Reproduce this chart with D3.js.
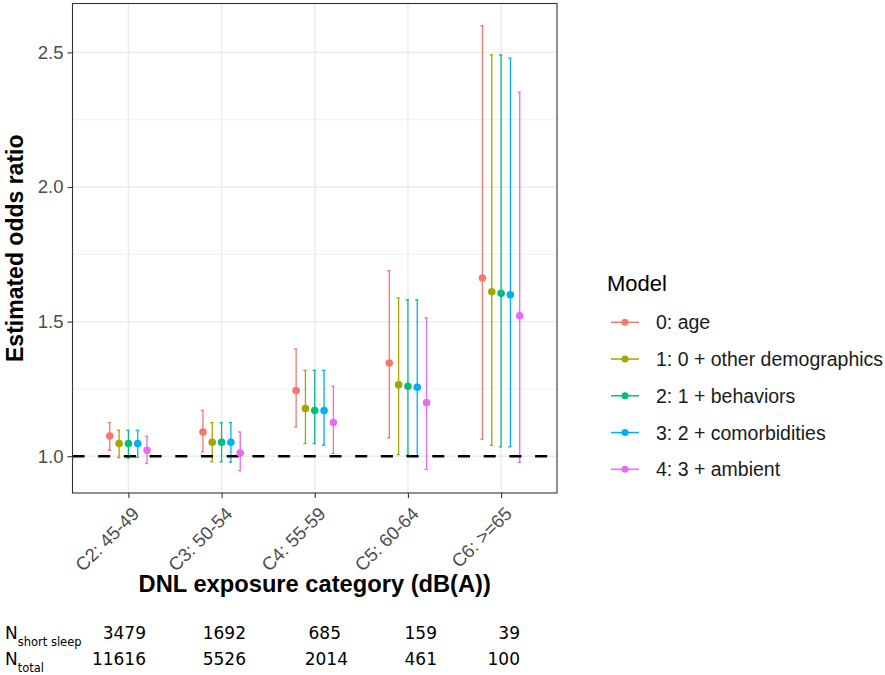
<!DOCTYPE html>
<html>
<head>
<meta charset="utf-8">
<script src="https://cdn.jsdelivr.net/npm/d3@7"></script>
<style>
  html, body { margin: 0; padding: 0; background: #ffffff; }
  svg { display: block; }
</style>
</head>
<body>
<svg id="chart" width="885" height="675"></svg>
<script>
// Exposure categories (x axis) and adjustment models (colour groups)
const categories = ["C2: 45-49", "C3: 50-54", "C4: 55-59", "C5: 60-64", "C6: >=65"];
const models = ["0: age", "1: 0 + other demographics", "2: 1 + behaviors", "3: 2 + comorbidities", "4: 3 + ambient"];
const modelColors = ["#F8766D", "#A3A500", "#00BF7D", "#00B0F6", "#E76BF3"];

// Estimated odds ratios and 95% CI per model, one entry per category
const orAge      = [1.075, 1.090, 1.244, 1.346, 1.662];
const loAge      = [1.022, 1.016, 1.109, 1.068, 1.063];
const hiAge      = [1.125, 1.170, 1.398, 1.689, 2.599];

const orDemo     = [1.047, 1.052, 1.177, 1.265, 1.611];
const loDemo     = [0.995, 0.979, 1.047, 1.006, 1.040];
const hiDemo     = [1.096, 1.125, 1.319, 1.588, 2.491];

const orBehav    = [1.047, 1.052, 1.170, 1.260, 1.605];
const loBehav    = [0.993, 0.979, 1.047, 1.004, 1.035];
const hiBehav    = [1.096, 1.125, 1.319, 1.581, 2.491];

const orComorb   = [1.047, 1.052, 1.170, 1.256, 1.600];
const loComorb   = [0.996, 0.978, 1.041, 1.000, 1.035];
const hiComorb   = [1.096, 1.125, 1.319, 1.581, 2.479];

const orAmbient  = [1.022, 1.012, 1.125, 1.199, 1.522];
const loAmbient  = [0.973, 0.946, 1.011, 0.951, 0.977];
const hiAmbient  = [1.074, 1.090, 1.260, 1.514, 2.352];

// Sample sizes printed below the axis
const nShortSleep = [3479, 1692, 685, 159, 39];
const nTotal      = [11616, 5526, 2014, 461, 100];

const yTicks = [1.0, 1.5, 2.0, 2.5];
const yMinorTicks = [1.25, 1.75, 2.25];
const referenceOR = 1.0;

const seriesOR = [orAge, orDemo, orBehav, orComorb, orAmbient];
const seriesLo = [loAge, loDemo, loBehav, loComorb, loAmbient];
const seriesHi = [hiAge, hiDemo, hiBehav, hiComorb, hiAmbient];

const rows = [];
models.forEach((m, mi) => {
  categories.forEach((c, ci) => {
    rows.push({ model: m, mi, category: c, or: seriesOR[mi][ci], lo: seriesLo[mi][ci], hi: seriesHi[mi][ci] });
  });
});

// ---- layout ----
const panel = { left: 72.5, right: 557, top: 3.5, bottom: 493 };
const svg = d3.select("#chart");
const sans = "'Liberation Sans', Arial, sans-serif";

// discrete x scale with 0.6 category expansion on each side
const unit = (panel.right - panel.left) / (categories.length - 1 + 1.2);
const x = d3.scalePoint().domain(categories)
  .range([panel.left + 0.6 * unit, panel.right - 0.6 * unit]);
const dodge = d3.scalePoint().domain(models).range([-0.2 * unit, 0.2 * unit]);

// continuous y scale with 5% expansion of the data range
const yLo = d3.min(rows, d => d.lo), yHi = d3.max(rows, d => d.hi);
const pad = (yHi - yLo) * 0.05;
const y = d3.scaleLinear().domain([yLo - pad, yHi + pad]).range([panel.bottom, panel.top]);

const color = d3.scaleOrdinal().domain(models).range(modelColors);

// panel grid
const grid = svg.append("g");
grid.selectAll(".minor").data(yMinorTicks).join("line")
  .attr("x1", panel.left).attr("x2", panel.right)
  .attr("y1", d => y(d)).attr("y2", d => y(d))
  .attr("stroke", "#EBEBEB").attr("stroke-width", 0.8);
grid.selectAll(".major").data(yTicks).join("line")
  .attr("x1", panel.left).attr("x2", panel.right)
  .attr("y1", d => y(d)).attr("y2", d => y(d))
  .attr("stroke", "#EBEBEB").attr("stroke-width", 1.4);
grid.selectAll(".vmajor").data(categories).join("line")
  .attr("x1", d => x(d)).attr("x2", d => x(d))
  .attr("y1", panel.top).attr("y2", panel.bottom)
  .attr("stroke", "#EBEBEB").attr("stroke-width", 1.4);

// error bars
const capHalf = 1.6;
const bars = svg.append("g");
rows.forEach(d => {
  const cx = x(d.category) + dodge(d.model);
  const g = bars.append("g").attr("stroke", color(d.model)).attr("stroke-width", 1.3).attr("fill", "none");
  g.append("line").attr("x1", cx).attr("x2", cx).attr("y1", y(d.hi)).attr("y2", y(d.lo));
  g.append("line").attr("x1", cx - capHalf - 0.5).attr("x2", cx + capHalf - 0.5).attr("y1", y(d.hi)).attr("y2", y(d.hi));
  g.append("line").attr("x1", cx - capHalf - 0.5).attr("x2", cx + capHalf - 0.5).attr("y1", y(d.lo)).attr("y2", y(d.lo));
});

// reference line at OR = 1
svg.append("line")
  .attr("x1", panel.left).attr("x2", panel.right)
  .attr("y1", y(referenceOR)).attr("y2", y(referenceOR))
  .attr("stroke", "#000").attr("stroke-width", 2.6)
  .attr("stroke-dasharray", "12,13.7");

// point estimates
svg.append("g").selectAll("circle").data(rows).join("circle")
  .attr("cx", d => x(d.category) + dodge(d.model))
  .attr("cy", d => y(d.or))
  .attr("r", 3.8)
  .attr("fill", d => color(d.model));

// panel border
svg.append("rect")
  .attr("x", panel.left).attr("y", panel.top)
  .attr("width", panel.right - panel.left).attr("height", panel.bottom - panel.top)
  .attr("fill", "none").attr("stroke", "#333333").attr("stroke-width", 1.1);

// y axis
const yAxis = d3.axisLeft(y).tickValues(yTicks).tickFormat(d3.format(".1f")).tickSize(5).tickPadding(4);
const gy = svg.append("g").attr("transform", `translate(${panel.left},0)`).call(yAxis);
gy.select(".domain").remove();
gy.selectAll(".tick line").attr("stroke", "#333333").attr("stroke-width", 1.1);
gy.selectAll(".tick text").attr("fill", "#4D4D4D")
  .style("font-family", sans).style("font-size", "18.5px");

// x axis
const xAxis = d3.axisBottom(x).tickSize(5).tickFormat("");
const gx = svg.append("g").attr("transform", `translate(0,${panel.bottom})`).call(xAxis);
gx.select(".domain").remove();
gx.selectAll(".tick line").attr("stroke", "#333333").attr("stroke-width", 1.1);
svg.append("g").selectAll("text").data(categories).join("text")
  .attr("transform", d => `translate(${x(d) + 12},${panel.bottom + 22}) rotate(-45)`)
  .attr("text-anchor", "end")
  .attr("fill", "#4D4D4D")
  .style("font-family", sans).style("font-size", "18.5px")
  .text(d => d);

// axis titles
svg.append("text")
  .attr("x", (panel.left + panel.right) / 2).attr("y", 592)
  .attr("text-anchor", "middle")
  .style("font-family", sans).style("font-size", "23.7px").style("font-weight", "bold")
  .text("DNL exposure category (dB(A))");
svg.append("text")
  .attr("transform", `translate(23,${(panel.top + panel.bottom) / 2}) rotate(-90)`)
  .attr("text-anchor", "middle")
  .style("font-family", sans).style("font-size", "23px").style("font-weight", "bold")
  .text("Estimated odds ratio");

// legend
const legend = svg.append("g");
legend.append("text").attr("x", 607).attr("y", 291)
  .style("font-family", sans).style("font-size", "22px")
  .text("Model");
const legendY = d3.scalePoint().domain(models).range([322.3, 469.3]);
const items = legend.selectAll(".item").data(models).join("g")
  .attr("transform", d => `translate(0,${legendY(d)})`);
items.append("line").attr("x1", 611).attr("x2", 639).attr("y1", 0).attr("y2", 0)
  .attr("stroke", d => color(d)).attr("stroke-width", 1.5);
items.append("circle").attr("cx", 625).attr("cy", 0).attr("r", 3.5).attr("fill", d => color(d));
items.append("text").attr("x", 656).attr("y", 7)
  .style("font-family", sans).style("font-size", "19.5px")
  .attr("fill", "#1A1A1A")
  .text(d => d);

// sample size table
const tableFont = "'DejaVu Sans', Verdana, sans-serif";
const tableRows = [
  { sub: "short sleep", values: nShortSleep, baseline: 639, right: [146, 246, 341, 437, 520] },
  { sub: "total", values: nTotal, baseline: 665, right: [146, 246, 348, 437, 520] }
];
tableRows.forEach(r => {
  const lab = svg.append("text").attr("x", 5).attr("y", r.baseline)
    .style("font-family", tableFont).style("font-size", "17px").attr("fill", "#000");
  lab.append("tspan").text("N");
  lab.append("tspan").attr("dy", 6.5).style("font-size", "11.5px").text(r.sub);
  svg.append("g").selectAll("text").data(r.values).join("text")
    .attr("x", (d, i) => r.right[i]).attr("y", r.baseline)
    .attr("text-anchor", "end")
    .style("font-family", tableFont).style("font-size", "17px").attr("fill", "#000")
    .text(d => d);
});
</script>
</body>
</html>
